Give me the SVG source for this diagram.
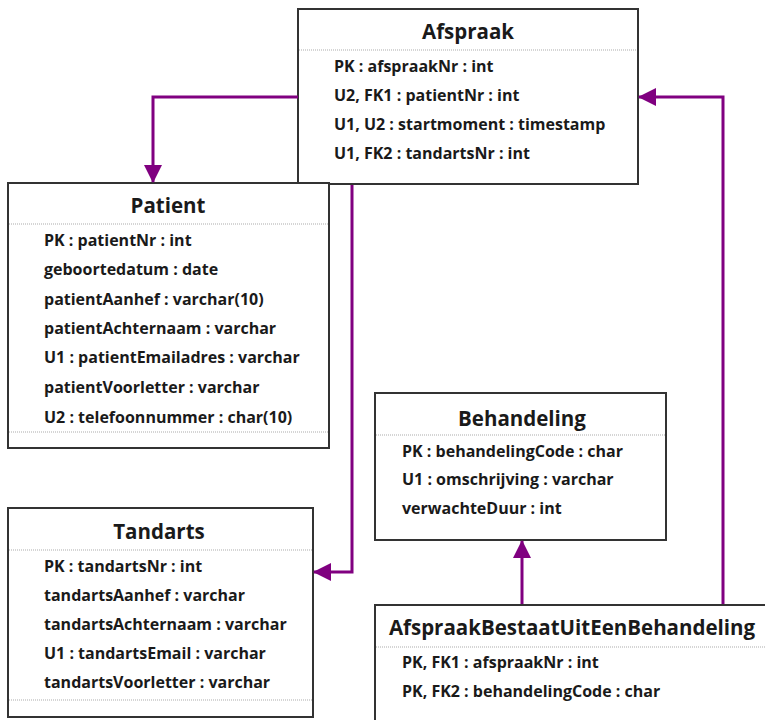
<svg xmlns="http://www.w3.org/2000/svg" width="765" height="720" viewBox="0 0 765 720">
<style>
.box{fill:#fff;stroke:#333;stroke-width:2}
.sep{stroke:#c8c8c8;stroke-width:1.5;stroke-dasharray:1 1}
.title{font-family:"Open Sans","Noto Sans",sans-serif;font-weight:700;font-size:20.5px;fill:#1a1a1a;text-anchor:middle}
.row{font-family:"Open Sans","Noto Sans",sans-serif;font-weight:700;font-size:16px;fill:#1a1a1a}
.conn{fill:none;stroke:#800080;stroke-width:3}
</style>
<defs>
<marker id="arr" viewBox="0 0 18 18" refX="17" refY="9" markerWidth="18" markerHeight="18" markerUnits="userSpaceOnUse" orient="auto">
<path d="M0,0 L18,9 L0,18 Z" fill="#800080"/>
</marker>
</defs>
<rect width="765" height="720" fill="#fff"/>

<g id="Afspraak">
<rect class="box" x="298" y="9" width="340" height="175"/>
<line class="sep" x1="299" y1="50" x2="637" y2="50"/>
<text class="title" x="468" y="39">Afspraak</text>
<text class="row" x="334" y="72">PK : afspraakNr : int</text>
<text class="row" x="334" y="101">U2, FK1 : patientNr : int</text>
<text class="row" x="334" y="130">U1, U2 : startmoment : timestamp</text>
<text class="row" x="334" y="159">U1, FK2 : tandartsNr : int</text>
</g>

<g id="Patient">
<rect class="box" x="8" y="183" width="321" height="265"/>
<line class="sep" x1="9" y1="224" x2="328" y2="224"/>
<line class="sep" x1="9" y1="432" x2="328" y2="432"/>
<text class="title" x="168" y="213">Patient</text>
<text class="row" x="44" y="246">PK : patientNr : int</text>
<text class="row" x="44" y="275">geboortedatum : date</text>
<text class="row" x="44" y="305">patientAanhef : varchar(10)</text>
<text class="row" x="44" y="334">patientAchternaam : varchar</text>
<text class="row" x="44" y="363">U1 : patientEmailadres : varchar</text>
<text class="row" x="44" y="393">patientVoorletter : varchar</text>
<text class="row" x="44" y="423">U2 : telefoonnummer : char(10)</text>
</g>

<g id="Tandarts">
<rect class="box" x="8" y="508" width="305" height="209"/>
<line class="sep" x1="9" y1="550" x2="312" y2="550"/>
<line class="sep" x1="9" y1="700" x2="312" y2="700"/>
<text class="title" x="159" y="539">Tandarts</text>
<text class="row" x="44" y="572">PK : tandartsNr : int</text>
<text class="row" x="44" y="601">tandartsAanhef : varchar</text>
<text class="row" x="44" y="630">tandartsAchternaam : varchar</text>
<text class="row" x="44" y="659">U1 : tandartsEmail : varchar</text>
<text class="row" x="44" y="688">tandartsVoorletter : varchar</text>
</g>

<g id="Behandeling">
<rect class="box" x="375" y="393" width="291" height="147"/>
<line class="sep" x1="376" y1="435" x2="665" y2="435"/>
<text class="title" x="522" y="426">Behandeling</text>
<text class="row" x="402" y="457">PK : behandelingCode : char</text>
<text class="row" x="402" y="485">U1 : omschrijving : varchar</text>
<text class="row" x="402" y="514">verwachteDuur : int</text>
</g>

<g id="AfspraakBestaatUitEenBehandeling">
<rect class="box" x="375" y="605" width="400" height="130"/>
<line class="sep" x1="376" y1="647" x2="765" y2="647"/>
<text class="title" x="572" y="635">AfspraakBestaatUitEenBehandeling</text>
<text class="row" x="402" y="668">PK, FK1 : afspraakNr : int</text>
<text class="row" x="402" y="697">PK, FK2 : behandelingCode : char</text>
</g>

<g id="connectors">
<path class="conn" d="M298,97 L153,97 L153,182" marker-end="url(#arr)"/>
<path class="conn" d="M352,185 L352,572 L314,572" marker-end="url(#arr)"/>
<path class="conn" d="M522,604 L522,541" marker-end="url(#arr)"/>
<path class="conn" d="M723,604 L723,97 L639,97" marker-end="url(#arr)"/>
</g>
</svg>
